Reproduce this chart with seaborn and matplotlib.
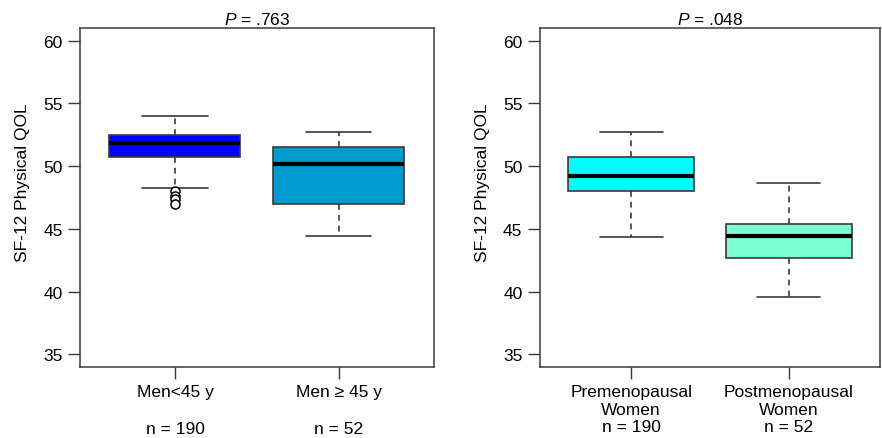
import matplotlib
matplotlib.use("Agg")
import matplotlib.pyplot as plt
import seaborn as sns

# five-number summaries
men_groups = ["Men<45 y", "Men \u2265 45 y"]
men_n = ["n = 190", "n = 52"]
men_whislo = [48.25, 44.4]
men_q1 = [50.75, 47.0]
men_med = [51.8, 50.15]
men_q3 = [52.45, 51.5]
men_whishi = [54.0, 52.7]
men_fliers = [[48.0, 47.65, 47.35, 47.0], []]
men_colors = ["#0000FF", "#009ACD"]
men_p = ".763"

women_groups = ["Premenopausal\nWomen\nn = 190", "Postmenopausal\nWomen\nn = 52"]
women_whislo = [44.35, 39.6]
women_q1 = [48.0, 42.7]
women_med = [49.2, 44.45]
women_q3 = [50.7, 45.35]
women_whishi = [52.7, 48.65]
women_fliers = [[], []]
women_colors = ["#00FFFF", "#7FFFD4"]
women_p = ".048"

y_ticks = [35, 40, 45, 50, 55, 60]

sns.set_theme(style="white")
plt.rcParams["font.family"] = ["Liberation Sans", "DejaVu Sans"]
plt.rcParams["mathtext.fontset"] = "custom"
plt.rcParams["mathtext.it"] = "Liberation Sans:italic"
plt.rcParams["mathtext.rm"] = "Liberation Sans"
plt.rcParams["text.color"] = "black"
plt.rcParams["axes.labelcolor"] = "black"
plt.rcParams["xtick.color"] = "black"
plt.rcParams["ytick.color"] = "black"

edge = "#3a3a3a"
fs = 12.5


def make_stats(lo, q1, med, q3, hi, fl):
    return [dict(whislo=a, q1=b, med=c, q3=d, whishi=e, fliers=f)
            for a, b, c, d, e, f in zip(lo, q1, med, q3, hi, fl)]


def draw_panel(ax, stats, colors, labels, p, ylab_x):
    parts = ax.bxp(stats, positions=[1, 2], widths=0.8, capwidths=0.4,
                   patch_artist=True, showfliers=True,
                   boxprops=dict(edgecolor=edge, linewidth=1.2),
                   whiskerprops=dict(color=edge, linewidth=1.2, linestyle=(0, (3.5, 3))),
                   capprops=dict(color=edge, linewidth=1.2),
                   medianprops=dict(color="black", linewidth=3),
                   flierprops=dict(marker="o", markerfacecolor="white",
                                   markeredgecolor="black", markersize=6.5,
                                   markeredgewidth=1.1))
    for box, c in zip(parts["boxes"], colors):
        box.set_facecolor(c)
    ax.set_xlim(0.42, 2.58)
    ax.set_ylim(34, 61)
    ax.set_yticks(y_ticks)
    ax.set_xticks([1, 2])
    ax.set_xticklabels(labels, fontsize=fs, linespacing=1.2)
    ax.tick_params(axis="both", direction="out", length=8.5, width=1,
                   color=edge, labelsize=fs, bottom=True, left=True, pad=4)
    ax.tick_params(axis="x", pad=4)
    for s in ax.spines.values():
        s.set_color(edge)
        s.set_linewidth(1.1)
    ax.set_ylabel("SF-12 Physical QOL", fontsize=fs)
    ax.yaxis.set_label_coords(ylab_x, 0.546)
    ax.set_title(r"$P$ = " + p, fontsize=fs, pad=3)


fig = plt.figure(figsize=(8.82, 4.39), dpi=100)
ax1 = fig.add_axes([0.0907, 0.162, 0.401, 0.772])
ax2 = fig.add_axes([0.612, 0.162, 0.386, 0.772])

draw_panel(ax1, make_stats(men_whislo, men_q1, men_med, men_q3, men_whishi, men_fliers),
           men_colors, men_groups, men_p, -0.141)
for x, t in zip([1, 2], men_n):
    ax1.text(x, -0.16, t, transform=ax1.get_xaxis_transform(),
             ha="center", va="top", fontsize=fs)

draw_panel(ax2, make_stats(women_whislo, women_q1, women_med, women_q3, women_whishi, women_fliers),
           women_colors, women_groups, women_p, -0.147)

fig.savefig("out.png", dpi=100)
